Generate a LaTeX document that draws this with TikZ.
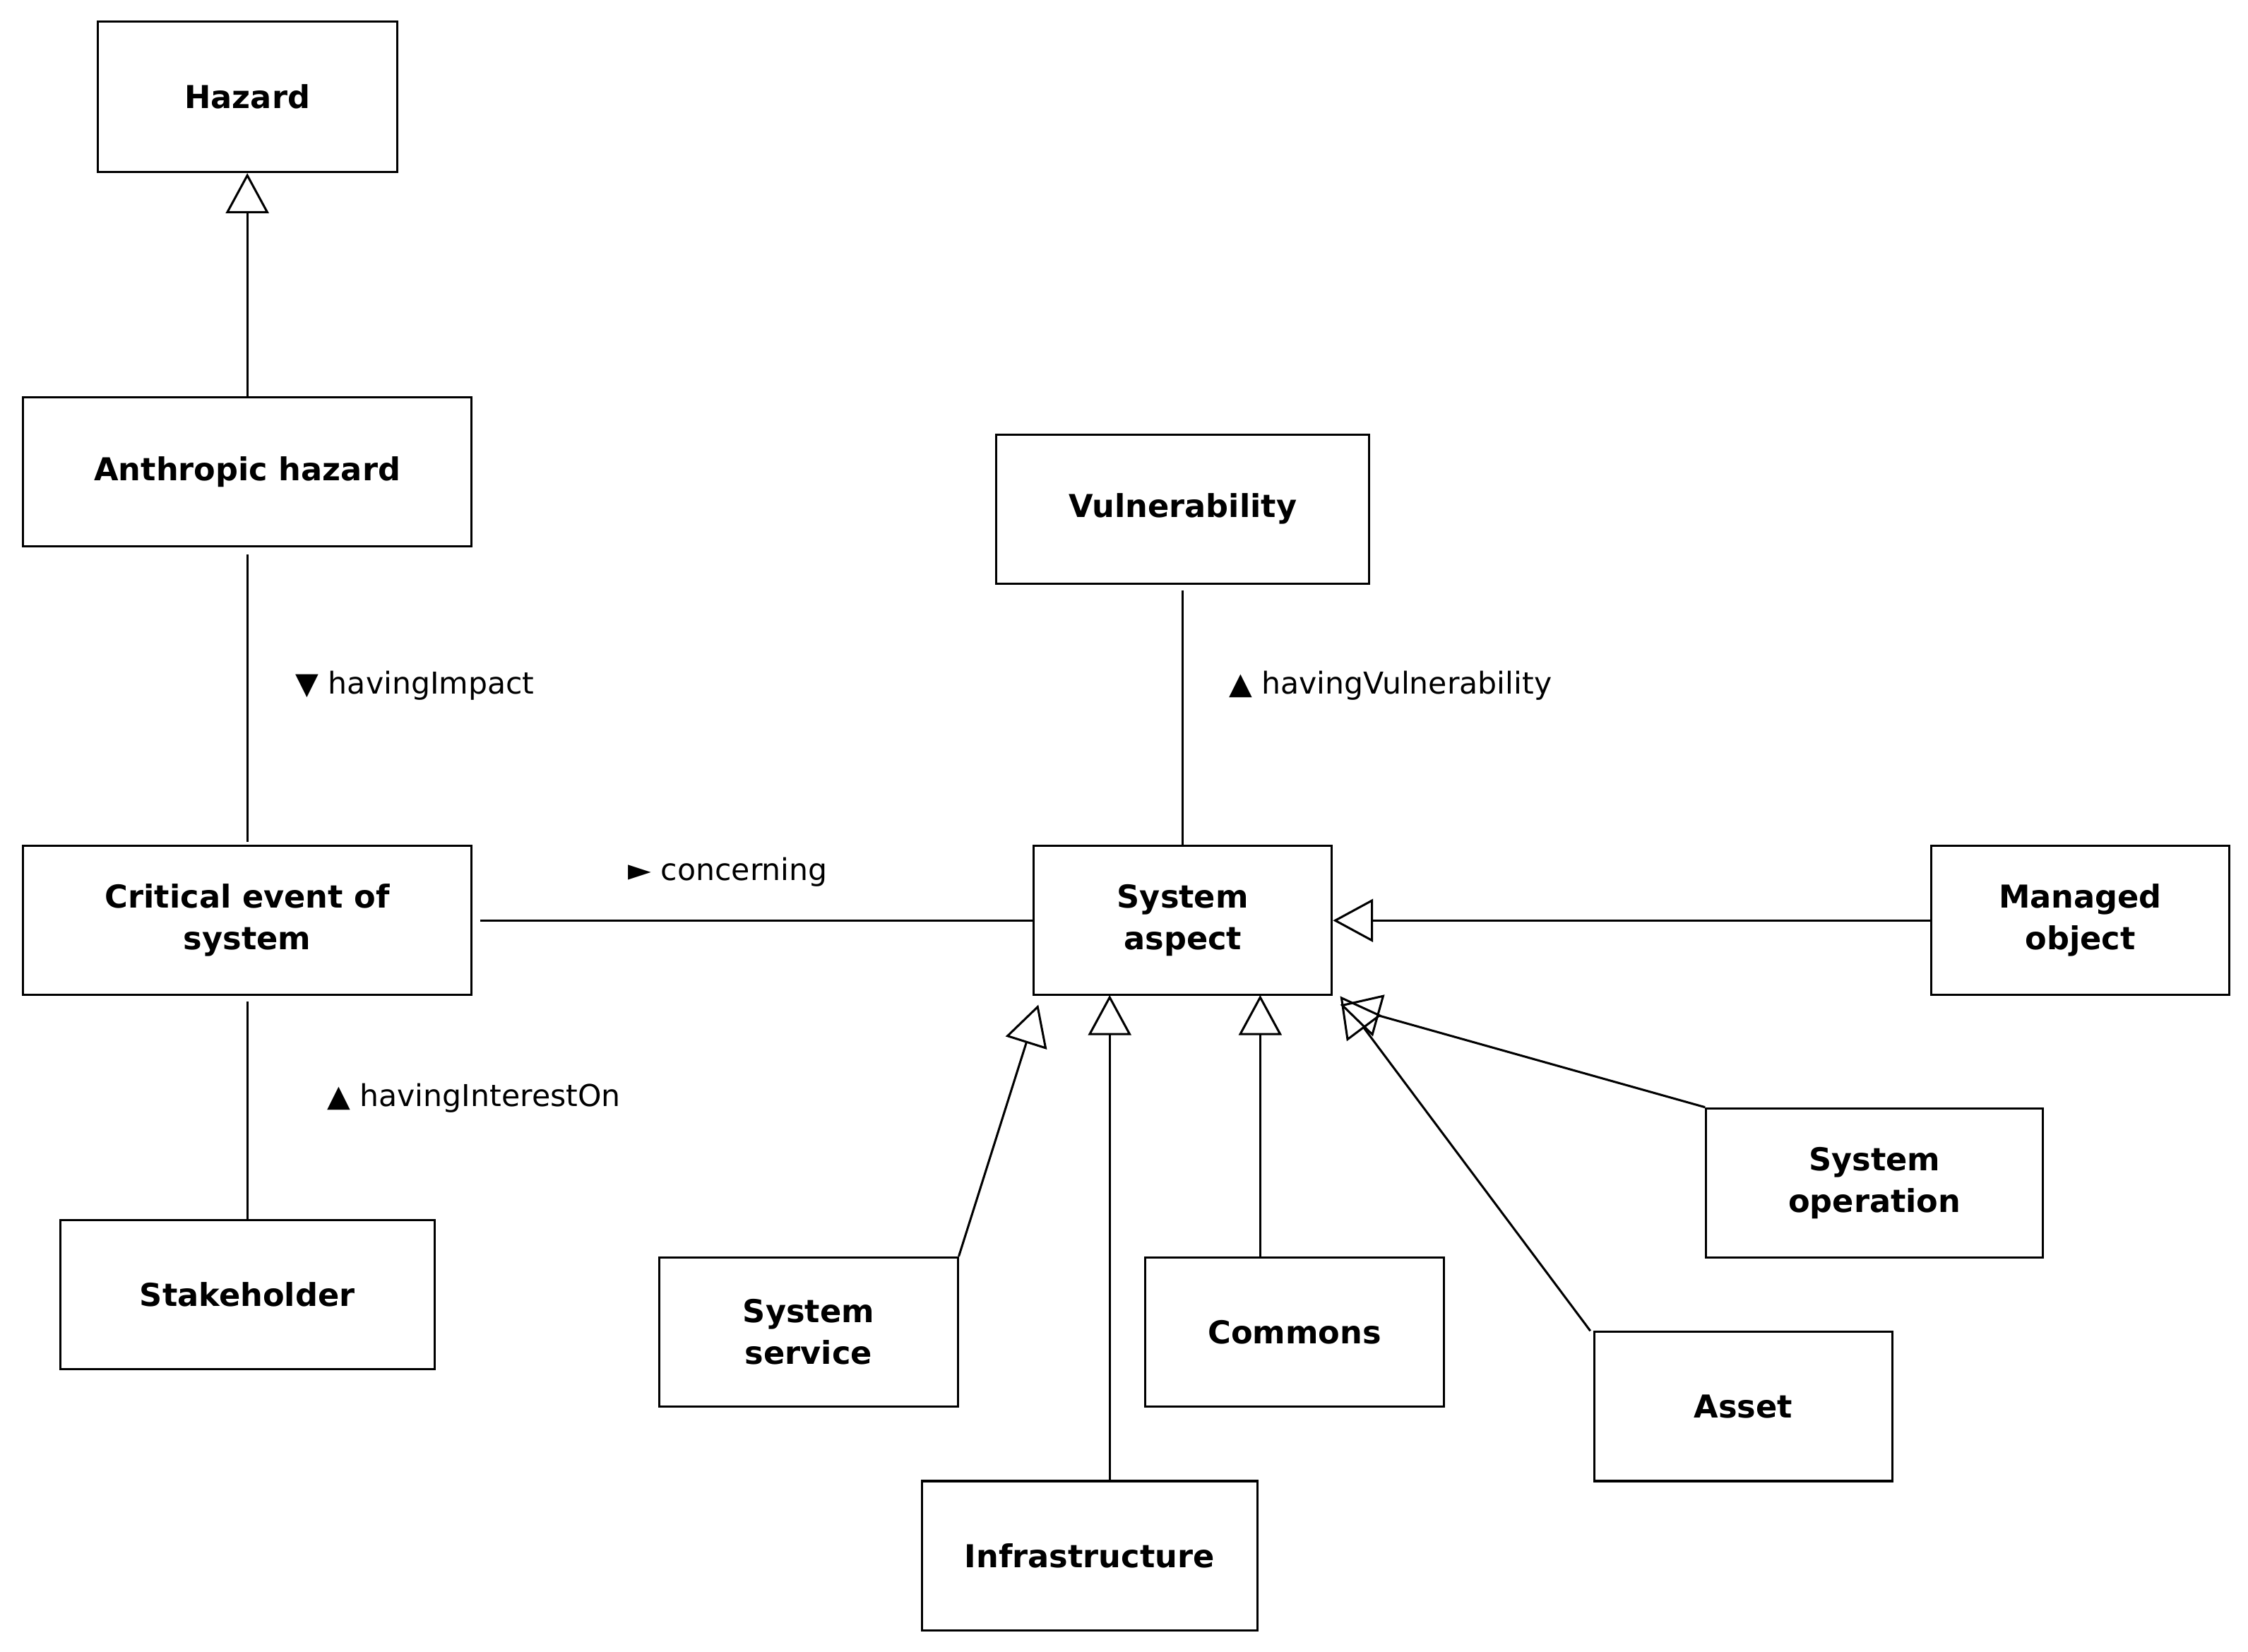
\documentclass[tikz,border=0pt]{standalone}
\usepackage{fontspec}
\setmainfont{DejaVu Sans}
\usetikzlibrary{arrows.meta}
\begin{document}
\begin{tikzpicture}[x=1pt,y=-1pt,
 box/.style={draw,line width=1.5pt,inner sep=0pt,align=center,font=\fontsize{22}{29}\selectfont\bfseries},
 lbl/.style={font=\fontsize{21}{26}\selectfont,anchor=west,inner sep=0pt},
 ln/.style={line width=1.5pt},
 gen/.style={ln,-{Triangle[open,length=28pt,width=30pt,line width=1.5pt]}}]
\useasboundingbox (0,0) rectangle (1568,1152);
\newcommand\bx[6]{\node[box,minimum width=#4pt-#2pt,minimum height=#5pt-#3pt] (#1) at ({(#2+#4)/2},{(#3+#5)/2}) {#6};}
\bx{haz}{68}{15}{277}{120}{Hazard}
\bx{anth}{16}{277}{329}{381}{Anthropic hazard}
\bx{crit}{16}{590}{329}{694}{Critical event of\\system}
\bx{stake}{42}{851}{303}{955}{Stakeholder}
\bx{vul}{695}{303}{955}{407}{Vulnerability}
\bx{sa}{721}{590}{929}{694}{System\\aspect}
\bx{man}{1347}{590}{1555}{694}{Managed\\object}
\bx{op}{1190}{773}{1425}{877}{System\\operation}
\bx{serv}{460}{877}{668}{981}{System\\service}
\bx{com}{799}{877}{1007}{981}{Commons}
\bx{inf}{643}{1033}{877}{1137}{Infrastructure}
\bx{asset}{1112}{929}{1320}{1033}{Asset}
\draw[gen] (anth.north) -- (haz.south);
\draw[ln] ([yshift=-5pt]anth.south) -- ([yshift=2pt]crit.north);
\draw[ln] ([yshift=-4pt]crit.south) -- (stake.north);
\draw[ln] ([xshift=5pt]crit.east) -- (sa.west);
\draw[ln] ([yshift=-4pt]vul.south) -- (sa.north);
\draw[gen] (man.west) -- (sa.east);
\draw[gen] (serv.north east) -- ([xshift=4pt,yshift=-6pt]sa.south west);
\draw[gen] (inf.north -| 774,0) -- (774,694);
\draw[gen] (com.north -| 879,0) -- (879,694);
\draw[gen] ([xshift=-2pt]asset.north west) -- ([xshift=5pt]sa.south east);
\draw[gen] (op.north west) -- ([xshift=5pt,yshift=-6pt]sa.south east);
\node[lbl] (l1) at (206,478) {▼ havingImpact};
\node[lbl] (l2) at (228,766) {▲ havingInterestOn};
\node[lbl] (l3) at (438,608) {► concerning};
\node[lbl] (l4) at (857,478) {▲ havingVulnerability};
\end{tikzpicture}
\end{document}
